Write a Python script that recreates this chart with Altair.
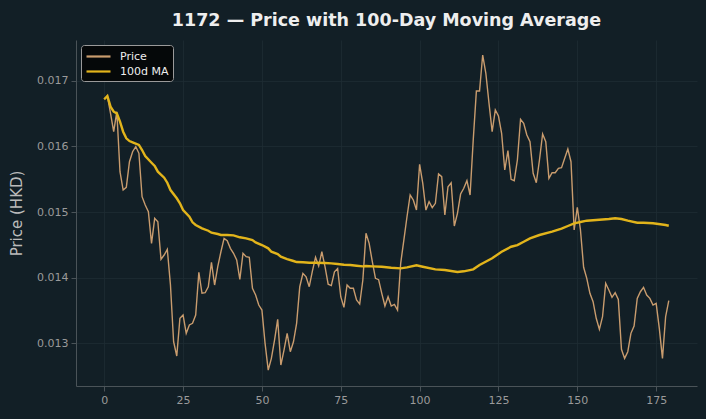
import altair as alt
import pandas as pd

# Daily closing price (HKD), trading days 0..179
price = [
    0.016717, 0.016767, 0.016503, 0.016223, 0.016528, 0.015614, 0.015335, 0.015376, 0.015766, 0.015919,
    0.015995, 0.015894, 0.015233, 0.015107, 0.015005, 0.014523, 0.014904, 0.014852, 0.014280, 0.014345,
    0.014432, 0.013888, 0.013024, 0.012807, 0.013381, 0.013431, 0.013152, 0.013279, 0.013305, 0.013431,
    0.014081, 0.013762, 0.013771, 0.013862, 0.014234, 0.013888, 0.014167, 0.014395, 0.014599, 0.014563,
    0.014447, 0.014371, 0.014269, 0.013975, 0.014371, 0.014319, 0.014310, 0.013838, 0.013736, 0.013583,
    0.013507, 0.013000, 0.012593, 0.012771, 0.013050, 0.013366, 0.012669, 0.012898, 0.013152, 0.012872,
    0.013024, 0.013305, 0.013862, 0.014066, 0.014014, 0.013862, 0.014100, 0.014310, 0.014177, 0.014395,
    0.014167, 0.013900, 0.013880, 0.014090, 0.014140, 0.013710, 0.013548, 0.013888, 0.013838, 0.013838,
    0.013660, 0.013598, 0.013964, 0.014676, 0.014523, 0.014243, 0.013990, 0.013970, 0.013762, 0.013568,
    0.013710, 0.013568, 0.013594, 0.013507, 0.014219, 0.014573, 0.014928, 0.015259, 0.015183, 0.015030,
    0.015727, 0.015437, 0.015030, 0.015157, 0.015066, 0.015133, 0.015579, 0.015538, 0.014954, 0.015385,
    0.015446, 0.014787, 0.014980, 0.015274, 0.015361, 0.015477, 0.015259, 0.016097, 0.016843, 0.016843,
    0.017391, 0.017113, 0.016656, 0.016223, 0.016554, 0.016462, 0.016199, 0.015640, 0.015934, 0.015498,
    0.015477, 0.015792, 0.016412, 0.016351, 0.016173, 0.016071, 0.015589, 0.015446, 0.015792, 0.016188,
    0.016071, 0.015513, 0.015599, 0.015599, 0.015666, 0.015675, 0.015818, 0.015960, 0.015766, 0.014726,
    0.015072, 0.014726, 0.014158, 0.013990, 0.013762, 0.013634, 0.013381, 0.013213, 0.013405, 0.013914,
    0.013812, 0.013701, 0.013771, 0.013670, 0.012909, 0.012771, 0.012872, 0.013152, 0.013263, 0.013685,
    0.013786, 0.013853, 0.013736, 0.013685, 0.013583, 0.013609, 0.013228, 0.012771, 0.013405, 0.013649,
]

# 100-day moving average, sampled days
ma_day = [
    0, 1, 2, 3, 4, 5, 6, 7, 8, 9, 11, 12, 13, 15, 16, 17, 19, 20, 21, 23, 24, 25, 27, 28, 29, 31,
    33, 34, 36, 37, 39, 41, 43, 45, 47, 48, 50, 52, 53, 55, 56, 58, 60, 61, 63, 65, 67, 70, 72,
    74, 76, 78, 80, 82, 83, 85, 88, 91, 94, 96, 99, 101, 105, 108, 112, 114, 117, 119, 123, 126,
    129, 131, 133, 135, 138, 142, 145, 147, 149, 151, 153, 156, 160, 162, 164, 166, 169, 171,
    174, 178, 179,
]
ma_value = [
    0.016717, 0.016767, 0.016604, 0.016528, 0.016503, 0.016376, 0.016223, 0.016123, 0.016081,
    0.016062, 0.016021, 0.015944, 0.015853, 0.015751, 0.015701, 0.015614, 0.015523, 0.015446,
    0.015335, 0.015209, 0.015133, 0.015030, 0.014928, 0.014843, 0.014802, 0.014751, 0.014715,
    0.014685, 0.014665, 0.014650, 0.014650, 0.014645, 0.014615, 0.014599, 0.014573, 0.014538,
    0.014497, 0.014447, 0.014395, 0.014360, 0.014319, 0.014284, 0.014254, 0.014238, 0.014234,
    0.014228, 0.014228, 0.014223, 0.014218, 0.014208, 0.014197, 0.014193, 0.014182, 0.014172,
    0.014177, 0.014172, 0.014167, 0.014152, 0.014142, 0.014157, 0.014188, 0.014167, 0.014127,
    0.014117, 0.014086, 0.014097, 0.014127, 0.014193, 0.014295, 0.014395, 0.014471, 0.014497,
    0.014548, 0.014599, 0.014650, 0.014700, 0.014746, 0.014787, 0.014828, 0.014848, 0.014868,
    0.014878, 0.014893, 0.014904, 0.014893, 0.014868, 0.014837, 0.014837, 0.014828, 0.014802,
    0.014791,
]

series_names = ["Price", "100d MA"]
series_colors = ["#c99c6e", "#e2b41b"]
x_ticks = [0, 25, 50, 75, 100, 125, 150, 175]
y_ticks = [0.013, 0.014, 0.015, 0.016, 0.017]

BG = "#121f26"
FONT = "DejaVu Sans"

price_df = pd.DataFrame({"day": list(range(len(price))), "value": price, "series": series_names[0]})
ma_df = pd.DataFrame({"day": ma_day, "value": ma_value, "series": series_names[1]})

x_enc = alt.X(
    "day:Q",
    scale=alt.Scale(domain=[-8.95, 187.95], nice=False, zero=False),
    axis=alt.Axis(values=x_ticks, title=None, format="d"),
)
y_enc = alt.Y(
    "value:Q",
    scale=alt.Scale(domain=[0.01235, 0.01762], nice=False, zero=False),
    axis=alt.Axis(
        values=y_ticks, format=".3f", title="Price (HKD)",
        titleX=-60, titleY=173, titleAngle=-90, titleAlign="center", titleBaseline="middle",
    ),
)
# legend swatch: a short horizontal stroke, offset right of its anchor
color_enc = alt.Color(
    "series:N",
    scale=alt.Scale(domain=series_names, range=series_colors),
    legend=alt.Legend(
        title=None, orient="top-left", offset=5, padding=4,
        fillColor="#050809", strokeColor="#9a9a9a", cornerRadius=3,
        symbolType="M-1,0H3", symbolSize=144, symbolStrokeWidth=2.2,
        labelColor="#eeeeee", labelFontSize=11, labelFont=FONT, labelOffset=20,
        rowPadding=2,
    ),
)

price_line = alt.Chart(price_df).mark_line(strokeWidth=1.4).encode(x=x_enc, y=y_enc, color=color_enc)
ma_line = alt.Chart(ma_df).mark_line(strokeWidth=2.4).encode(x=x_enc, y=y_enc, color=color_enc)

chart = (
    alt.layer(price_line, ma_line)
    .properties(
        width=621,
        height=346,
        padding={"left": 76, "top": 40, "right": 9, "bottom": 33},
        autosize=alt.AutoSizeParams(type="none"),
        background=BG,
        title=alt.TitleParams(
            "1172 — Price with 100-Day Moving Average",
            font=FONT, fontSize=17.5, fontWeight="bold", color="#eeeeee",
            anchor="middle", frame="group", baseline="alphabetic", offset=12, dy=15,
        ),
    )
    .configure_view(stroke=None, fill=BG)
    .configure_axis(
        domainColor="#4a5358", tickColor="#4a5358", tickSize=5, domainWidth=1,
        labelColor="#9a9a9a", labelFont=FONT, labelFontSize=11, labelPadding=3,
        titleColor="#bbbbbb", titleFont=FONT, titleFontSize=15, titleFontWeight="normal",
        gridColor="#1e2c33", gridWidth=0.8,
    )
)

chart.save("out.html", embed_options={"renderer": "svg", "actions": False})
